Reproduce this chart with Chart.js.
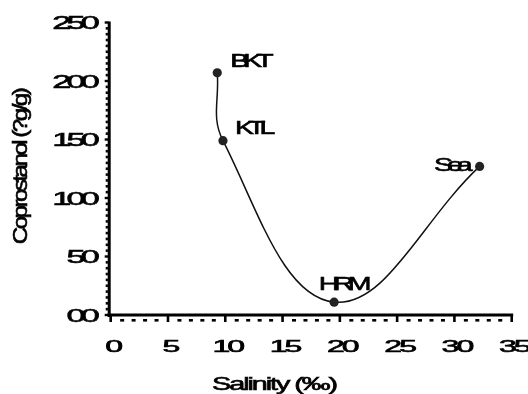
<!DOCTYPE html>
<html>
<head>
<meta charset="utf-8">
<script src="https://cdn.jsdelivr.net/npm/chart.js@4"></script>
<style>
  html, body { margin: 0; padding: 0; background: #fff; }
  #wrap { width: 528px; height: 394px; }
</style>
</head>
<body>
<div id="wrap"><canvas id="myChart" width="528" height="394"></canvas></div>
<script>
// data
var sitios = ['BKT', 'KTL', 'HRM', 'Sea'];
var salinidad = [9.3, 9.8, 19.5, 32.2];
var coprostanol = [207, 149, 11, 127];

var xTicks = [0, 5, 10, 15, 20, 25, 30, 35];
var xTickLabels = ['0', '5', '10', '15', '20', '25', '30', '35'];
var yTicks = [0, 50, 100, 150, 200, 250];
var yTickLabels = ['00', '50', '100', '150', '200', '250'];

var tituloX = 'Salinity (\u2030)';
var tituloY = 'Coprostanol (?g/g)';

var puntos = [];
for (var i = 0; i < salinidad.length; i++) {
    puntos.push({ x: salinidad[i], y: coprostanol[i] });
}

// stretched, tightly tracked text like the original figure
function texto(ctx, str, x, y, size, sx, ls, align, rot) {
    ctx.save();
    ctx.translate(x, y);
    if (rot) ctx.rotate(rot);
    ctx.scale(sx, 1);
    ctx.font = size + 'px "Liberation Sans", Arial, sans-serif';
    ctx.letterSpacing = ls + 'px';
    ctx.textAlign = align;
    ctx.textBaseline = 'middle';
    ctx.fillStyle = '#000';
    ctx.strokeStyle = '#000';
    ctx.lineWidth = 0.6;
    ctx.fillText(str, 0, 0);
    ctx.strokeText(str, 0, 0);
    ctx.restore();
}

var ejes = {
    id: 'ejes',
    afterDatasetsDraw: function (chart) {
        var ctx = chart.ctx;
        var xs = chart.scales.x;
        var ys = chart.scales.y;
        var L = xs.getPixelForValue(0);
        var B = ys.getPixelForValue(0);
        var R = xs.getPixelForValue(35);
        var T = ys.getPixelForValue(250);
        ctx.save();
        ctx.fillStyle = '#000';
        // y axis line
        ctx.fillRect(L - 3, T - 1, 3, B - T + 3);
        // x axis line
        ctx.fillRect(L - 3, B - 1.5, R - L + 4.5, 3);
        // y minor ticks
        for (var v = 0; v <= 250; v += 5) {
            var py = ys.getPixelForValue(v);
            if (v % 50 === 0) {
                ctx.fillRect(L - 6, py - 1.2, 4, 2.4);
            } else {
                ctx.fillRect(L - 5, py - 1.3, 2.2, 2.6);
            }
        }
        // x minor ticks
        for (var u = 0; u <= 35; u += 1) {
            var px = xs.getPixelForValue(u);
            if (u % 5 === 0) {
                ctx.fillRect(px - 1.3, B, 2.6, 7);
            } else {
                ctx.fillRect(px - 2, B + 4, 4, 2.6);
            }
        }
        ctx.restore();

        for (var j = 0; j < yTicks.length; j++) {
            texto(ctx, yTickLabels[j], 95, ys.getPixelForValue(yTicks[j]) + 2, 18, 1.9, -2.5, 'right');
        }
        for (var k = 0; k < xTicks.length; k++) {
            texto(ctx, xTickLabels[k], xs.getPixelForValue(xTicks[k]) + 2, 348, 16, 2.0, -1.5, 'center');
        }
        texto(ctx, tituloX, 274, 385, 18, 1.6, -1.3, 'center');
        texto(ctx, tituloY, 21, 167, 21, 1.15, -2.2, 'center', -Math.PI / 2);

        // site labels beside each point
        var meta = chart.getDatasetMeta(0);
        var offs = [[13, -11, 'left'], [12, -12, 'left'], [8, -17, 'center'], [-13, -1, 'right']];
        for (var s = 0; s < sitios.length; s++) {
            var p = meta.data[s];
            texto(ctx, sitios[s], p.x + offs[s][0], p.y + offs[s][1], 19, 1.5, -4, offs[s][2]);
        }
    }
};

var ctx = document.getElementById('myChart').getContext('2d');
var myChart = new Chart(ctx, {
    type: 'line',
    data: {
        datasets: [{
            label: 'Coprostanol',
            data: puntos,
            borderColor: '#111',
            borderWidth: 1.5,
            tension: 0.4,
            pointRadius: 4.6,
            pointBackgroundColor: '#222',
            pointBorderWidth: 0,
            fill: false
        }]
    },
    options: {
        responsive: false,
        animation: false,
        layout: {
            padding: { left: 110.7, right: 16.3, top: 22.5, bottom: 79 }
        },
        scales: {
            x: { type: 'linear', min: 0, max: 35, display: false },
            y: { type: 'linear', min: 0, max: 250, display: false }
        },
        plugins: {
            legend: { display: false },
            tooltip: { enabled: false }
        }
    },
    plugins: [ejes]
});
</script>
</body>
</html>
